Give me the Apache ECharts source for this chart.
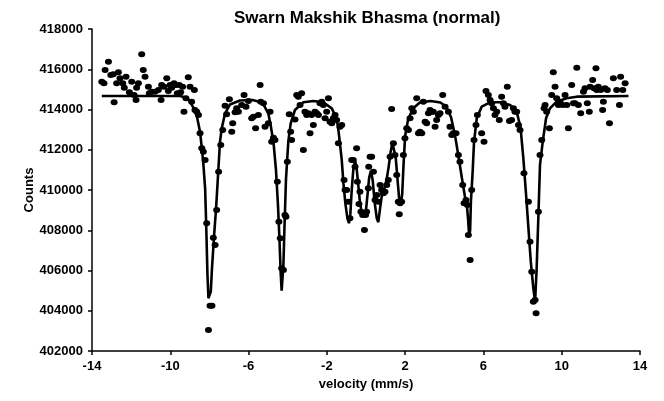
<!DOCTYPE html>
<html>
<head>
<meta charset="utf-8">
<script src="https://cdn.jsdelivr.net/npm/echarts@6/dist/echarts.min.js"></script>
<style>html,body{margin:0;padding:0;background:#fff;}#c{width:664px;height:401px;}</style>
</head>
<body>
<div id="c"></div>
<script>
const titleText = "Swarn Makshik Bhasma (normal)";
const xTitle = "velocity (mm/s)";
const yTitle = "Counts";
const xTicks = [-14, -10, -6, -2, 2, 6, 10, 14];
const yTicks = [402000, 404000, 406000, 408000, 410000, 412000, 414000, 416000, 418000];

// measured points
const velocity = [
-13.50,-13.39,-13.33,-13.16,-13.04,-12.91,-12.87,-12.74,-12.65,-12.57,-12.43,-12.35,-12.26,-12.09,-11.97,-11.85,-11.75,-11.72,-11.63,-11.46,
-11.38,-11.29,-11.12,-11.07,-10.95,-10.78,-10.61,-10.47,-10.44,-10.32,-10.18,-10.10,-10.01,-9.93,-9.81,-9.71,-9.64,-9.54,-9.47,-9.37,
-9.30,-9.20,-9.08,-8.99,-8.91,-8.77,-8.74,-8.65,-8.56,-8.48,-8.39,-8.31,-8.22,-8.14,-8.05,-7.97,-7.87,-7.80,-7.71,-7.63,
-7.53,-7.42,-7.32,-7.20,-7.12,-6.98,-6.86,-6.81,-6.69,-6.61,-6.52,-6.35,-6.23,-6.13,-6.01,-5.84,-5.75,-5.64,-5.50,-5.41,
-5.38,-5.24,-5.16,-4.99,-4.90,-4.82,-4.73,-4.65,-4.53,-4.45,-4.38,-4.31,-4.22,-4.14,-4.09,-4.02,-3.92,-3.85,-3.80,-3.63,
-3.54,-3.46,-3.37,-3.29,-3.20,-3.12,-3.03,-2.95,-2.86,-2.78,-2.69,-2.61,-2.52,-2.43,-2.35,-2.26,-2.18,-2.09,-2.01,-1.92,
-1.84,-1.75,-1.67,-1.58,-1.50,-1.41,-1.33,-1.24,-1.12,-1.07,-0.99,-0.90,-0.82,-0.73,-0.65,-0.56,-0.48,-0.44,-0.36,-0.31,
-0.26,-0.17,-0.08,-0.02,0.03,0.12,0.14,0.21,0.29,0.38,0.46,0.55,0.63,0.72,0.80,0.89,0.97,1.06,1.14,1.23,
1.31,1.40,1.48,1.57,1.65,1.70,1.74,1.82,1.91,1.99,2.08,2.17,2.25,2.34,2.42,2.59,2.68,2.76,2.85,2.93,
3.02,3.10,3.19,3.27,3.36,3.44,3.53,3.61,3.70,3.78,3.92,4.04,4.21,4.29,4.38,4.46,4.60,4.72,4.80,4.94,
5.01,5.11,5.18,5.23,5.32,5.40,5.52,5.62,5.69,5.91,6.03,6.13,6.25,6.34,6.42,6.51,6.59,6.68,6.81,6.93,
7.02,7.10,7.22,7.33,7.44,7.53,7.61,7.70,7.79,7.87,8.07,8.30,8.38,8.47,8.55,8.64,8.69,8.81,8.89,8.98,
9.10,9.15,9.23,9.37,9.49,9.57,9.66,9.74,9.83,9.91,10.05,10.17,10.26,10.34,10.51,10.60,10.68,10.77,10.85,10.97,
11.11,11.19,11.31,11.41,11.45,11.58,11.65,11.75,11.79,11.87,11.99,12.09,12.13,12.21,12.33,12.44,12.64,12.81,12.95,13.01,
13.12,13.24
];
const counts = [
415383,415301,415963,416377,415715,415748,414357,415301,415847,415549,415301,415085,415632,414853,415383,414721,414472,415085,415301,416742,
415963,415632,415135,414804,414886,414886,414969,414472,415218,415135,415549,414920,415218,415085,415301,415218,414804,415218,414853,415135,
413893,414555,415599,415135,414390,414969,413976,413893,413727,412816,412071,411905,411491,408344,403044,404253,404253,407632,407268,409007,
410912,412237,412982,414191,413760,414506,412899,413313,413860,414058,413893,414224,414721,414141,414423,413561,413644,413065,413727,415218,
414390,414307,413147,413313,413893,412402,412601,412485,410415,408427,407600,406108,406025,408758,408675,411408,413760,412899,412485,413500,
414721,414638,414224,414804,411988,413893,413727,413810,412816,413727,413230,413893,413810,413727,414307,414390,414224,413561,413893,414555,
413396,413313,413561,413727,413478,412319,413147,413230,410497,410000,410000,409420,408593,411491,411490,411160,412070,410414,409300,409917,
408923,408758,408013,408758,408923,410083,411160,411657,411656,410911,409504,409751,409420,410248,410000,409834,409917,410249,410497,411656,
414024,412319,411740,410745,409421,408800,409338,409420,411739,412568,413065,412982,413561,414058,413893,414555,412816,412899,412816,414390,
413396,413313,413810,413976,413893,413893,413147,413478,413727,413810,414721,414141,413893,413147,412733,412816,412816,411740,411408,410249,
409338,409504,409255,407764,406522,410000,412485,413230,413727,412816,412402,414920,414721,414472,414307,414058,413727,413893,413478,414638,
414307,414141,415135,413429,413478,414058,413893,413893,413230,412982,410829,409421,407433,405942,404452,404534,403872,408924,411740,412485,
414058,414224,413893,413065,414721,415847,415135,414555,414224,414390,414224,414721,414224,413065,415219,414307,414307,416079,414224,413810,
414886,415052,414307,413893,415135,415466,415052,416046,414969,415135,414969,413976,414390,415052,414969,413313,415549,414969,414224,415632,
414969,415301
];

// fitted curve
const fitVelocity = [
-13.50,-9.50,-9.20,-8.99,-8.80,-8.65,-8.48,-8.38,-8.31,-8.22,-8.17,-8.10,-8.05,-7.97,-7.93,-7.87,-7.76,-7.66,-7.56,-7.46,
-7.37,-7.20,-6.95,-6.44,-5.80,-5.50,-5.24,-4.99,-4.85,-4.72,-4.60,-4.50,-4.42,-4.36,-4.31,-4.27,-4.22,-4.17,-4.09,-3.97,
-3.85,-3.63,-3.20,-2.69,-2.18,-1.75,-1.50,-1.40,-1.33,-1.24,-1.15,-1.05,-0.95,-0.87,-0.80,-0.73,-0.65,-0.56,-0.48,-0.40,
-0.30,-0.20,-0.10,0.00,0.08,0.16,0.25,0.34,0.44,0.55,0.63,0.72,0.82,0.95,1.05,1.15,1.26,1.35,1.42,1.52,
1.62,1.70,1.78,1.85,1.92,2.00,2.15,2.40,2.75,3.30,3.80,4.10,4.35,4.55,4.72,4.90,5.05,5.15,5.22,5.27,
5.32,5.36,5.45,5.52,5.66,5.91,6.34,6.85,7.36,7.70,7.90,8.04,8.18,8.30,8.42,8.55,8.64,8.72,8.81,8.89,
9.03,9.20,9.40,9.74,10.25,10.77,13.41
];
const fitCounts = [
414671,414671,414600,414390,414050,413700,412899,412000,411300,410083,408427,405777,404618,404700,404949,406108,407764,409090,410746,412402,
413065,413810,414250,414450,414470,414400,414250,413800,413100,412300,411000,409300,407500,405900,405000,404949,406300,408000,410500,412400,
413300,413976,414357,414423,414357,414058,413561,412900,412300,411500,410300,409300,408600,408350,408800,410000,411000,411450,411100,410300,
409300,408800,408700,409000,409800,410600,410950,410500,409400,408600,408400,409100,409800,410100,410500,411100,411900,412350,412300,411600,
410400,409500,409300,409800,411300,412700,413500,414050,414350,414420,414350,414150,413600,412700,411700,410600,409700,409300,408500,407700,
408000,409421,410912,412402,413561,414141,414357,414357,414224,413893,413065,411574,409752,408096,406440,405114,404452,406108,408758,411243,
412402,413561,414058,414390,414555,414638,414671
];

const pts = velocity.map((v, i) => [v, counts[i]]);
const fit = fitVelocity.map((v, i) => [v, fitCounts[i]]);

const FONT = "'Liberation Sans', Arial, sans-serif";
const chart = echarts.init(document.getElementById('c'), null, {renderer: 'canvas'});
chart.setOption({
  animation: false,
  backgroundColor: '#ffffff',
  title: {
    text: titleText,
    left: 229, top: 5,
    textStyle: {fontFamily: FONT, fontSize: 17, fontWeight: 'bold', color: '#000'}
  },
  grid: {left: 92, right: 24, top: 29, bottom: 50, containLabel: false},
  xAxis: {
    type: 'value', min: xTicks[0], max: xTicks[xTicks.length - 1],
    interval: 4,
    name: xTitle, nameLocation: 'middle', nameGap: 24,
    nameTextStyle: {fontFamily: FONT, fontSize: 13, fontWeight: 'bold', color: '#000'},
    splitLine: {show: false},
    axisLine: {show: true, onZero: false, lineStyle: {color: '#000', width: 1.5}},
    axisTick: {show: true, inside: false, length: 4, lineStyle: {color: '#000', width: 1.5}, customValues: xTicks},
    axisLabel: {fontFamily: FONT, fontSize: 13, fontWeight: 'bold', color: '#000', margin: 9, customValues: xTicks,
      formatter: v => String(v)}
  },
  yAxis: {
    type: 'value', min: yTicks[0], max: yTicks[yTicks.length - 1], interval: 2000,
    name: yTitle, nameLocation: 'middle', nameGap: 56, nameRotate: 90, nameMoveOverlap: false,
    nameTextStyle: {fontFamily: FONT, fontSize: 13, fontWeight: 'bold', color: '#000'},
    splitLine: {show: false},
    axisLine: {show: true, onZero: false, lineStyle: {color: '#000', width: 1.5}},
    axisTick: {show: true, inside: false, length: 4, lineStyle: {color: '#000', width: 1.5}},
    axisLabel: {fontFamily: FONT, fontSize: 13, fontWeight: 'bold', color: '#000', margin: 9,
      formatter: v => String(v)}
  },
  series: [
    {
      type: 'scatter', data: pts, symbol: 'circle', symbolSize: [7, 6],
      itemStyle: {color: '#000', opacity: 1}, z: 2
    },
    {
      type: 'line', data: fit, showSymbol: false, symbol: 'none', smooth: false,
      lineStyle: {color: '#000', width: 2.6}, z: 3
    }
  ]
});
</script>
</body>
</html>
